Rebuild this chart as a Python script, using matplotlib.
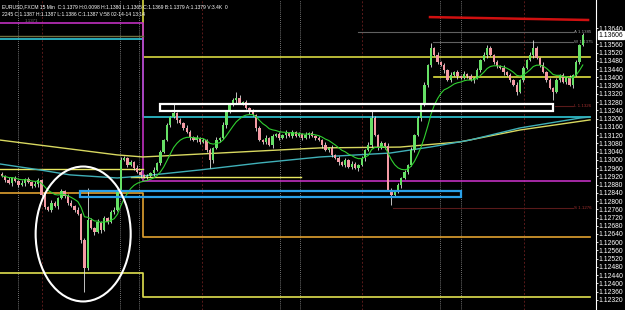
import numpy as np
import pandas as pd
import matplotlib
matplotlib.use("Agg")
import matplotlib.pyplot as plt
from matplotlib.patches import Rectangle, Ellipse

# ---- candle data (EURUSD 15 min) ----
closes = [
    1.12922, 1.12902, 1.12888, 1.12912, 1.12897, 1.12878, 1.12888, 1.12907, 1.12892, 1.12873,
    1.12883, 1.12902, 1.12829, 1.12771, 1.12757, 1.12791, 1.12776, 1.12815, 1.12849, 1.12825,
    1.12791, 1.12776, 1.12757, 1.12737, 1.12611, 1.12475, 1.12708, 1.12669, 1.12650, 1.12698,
    1.12660, 1.12718, 1.12698, 1.12747, 1.12757, 1.12854, 1.12999, 1.13009, 1.12975, 1.12990,
    1.12961, 1.12941, 1.12927, 1.12917, 1.12922, 1.12936, 1.12951, 1.12985, 1.13038, 1.13096,
    1.13169, 1.13208, 1.13227, 1.13194, 1.13179, 1.13155, 1.13135, 1.13111, 1.13096, 1.13106,
    1.13087, 1.13096, 1.13048, 1.12999, 1.13058, 1.13096, 1.13106, 1.13169, 1.13232, 1.13266,
    1.13291, 1.13300, 1.13276, 1.13281, 1.13252, 1.13232, 1.13218, 1.13155, 1.13096, 1.13087,
    1.13106, 1.13072, 1.13116, 1.13126, 1.13106, 1.13121, 1.13130, 1.13116, 1.13135, 1.13116,
    1.13126, 1.13106, 1.13121, 1.13130, 1.13116, 1.13106, 1.13096, 1.13072, 1.13048, 1.13058,
    1.13024, 1.13009, 1.12990, 1.12975, 1.12999, 1.12965, 1.12980, 1.12961, 1.12975, 1.13009,
    1.13048, 1.13072, 1.13203, 1.13121, 1.13058, 1.13082, 1.13067, 1.12854, 1.12829, 1.12844,
    1.12878, 1.12912, 1.12941, 1.12975, 1.13048, 1.13121, 1.13203, 1.13266, 1.13363, 1.13460,
    1.13543, 1.13509, 1.13475, 1.13460, 1.13436, 1.13388, 1.13412, 1.13427, 1.13407, 1.13397,
    1.13417, 1.13407, 1.13388, 1.13397, 1.13436, 1.13485, 1.13509, 1.13543, 1.13509, 1.13475,
    1.13456, 1.13446, 1.13427, 1.13412, 1.13388, 1.13363, 1.13329, 1.13388, 1.13446, 1.13485,
    1.13509, 1.13543, 1.13494, 1.13460, 1.13427, 1.13388, 1.13349, 1.13329, 1.13388, 1.13412,
    1.13378, 1.13397, 1.13363, 1.13412, 1.13475, 1.13558, 1.13606,
]
first_open = 1.12930

# wick lengths, one digit per candle, in half pips
WICK_UP = ("2131213121 3212132121 2313121213 1212313212 1321213121 2131213213 "
           "1212131321 2131213121 3121213121 2131212131 3121213212 1312121321 "
           "2121312131 2131213121 3121213121 2131213121 3121312121 2131212")
WICK_DN = ("1213121312 1312121312 2121312131 3121213121 2131213121 1213121312 "
           "2121312131 1312121312 2131213121 1213121312 2131212131 3121213121 "
           "1312121312 2121312131 1213121312 2131213121 1312121312 1213121")
high_fix = {26: 1.12863, 52: 1.13276, 71: 1.13329, 112: 1.13242, 130: 1.13567,
            147: 1.13558, 161: 1.13582}
low_fix = {25: 1.12359, 63: 1.12961, 118: 1.12781, 167: 1.13291}

# long moving averages (candle index, price)
yellow_ma_x = [-0.6, 34.9, 42.7, 96.4, 120.6, 138.8, 157.0, 178.2]
yellow_ma_p = [1.13096, 1.13024, 1.13014, 1.13058, 1.13062, 1.13087, 1.13145, 1.13194]
teal_ma_x = [-0.6, 11.5, 20.6, 34.9, 42.7, 60.0, 78.2, 96.4, 117.6, 129.7, 141.8, 157.0, 175.2, 178.2]
teal_ma_p = [1.12980, 1.12951, 1.12927, 1.12912, 1.12922, 1.12951, 1.12985, 1.13014,
             1.13033, 1.13062, 1.13096, 1.13155, 1.13203, 1.13208]

# daily levels: value before / after the day break
day_break = 42.7
lvl_before = [1.13800, 1.13587, 1.13665, 1.12839, 1.12451]
lvl_after = [1.13499, 1.13208, 1.12897, 1.12625, 1.12334]
lvl_colors = ["#d8d840", "#30c8d8", "#c030c0", "#e0a030", "#e0e050"]

fig = plt.figure(figsize=(6.25, 3.10), dpi=100, facecolor="black")
ax = fig.add_axes([0, 0, 596 / 625, 1])
ax.set_facecolor("black")
ax.set_xlim(-0.6, 180.0)
ax.set_ylim(1.12271, 1.13776)

# period separators
for xv in [5.0, 35.8, 41.5, 84.2, 90.3, 132.7, 139.1]:
    ax.axvline(xv, color="#9a9a9a", lw=0.6, ls=(0, (1, 1.5)), zorder=1)
for xv in [12.1, 60.6, 109.1, 158.2]:
    ax.axvline(xv, color="#5a1a1a", lw=0.7, ls=(0, (2, 2)), zorder=1)

# daily step lines
for b, a, c in zip(lvl_before, lvl_after, lvl_colors):
    ax.plot([-0.6, day_break, day_break, 178.3], [b, b, a, a], color=c, lw=1.2, zorder=2)
ax.plot([-0.6, day_break], [1.13601, 1.13601], color="#707040", lw=1.0, zorder=2)
ax.plot([-0.6, 42.7], [1.12956, 1.12956], color="#e8e860", lw=1.0, zorder=2)
ax.plot([39.0, 90.5], [1.12917, 1.12917], color="#e8e860", lw=1.0, zorder=2)
ax.plot([131.0, 178.3], [1.13402, 1.13402], color="#e0e040", lw=1.2, zorder=2)

# red trend line at top, grey / dark red marker lines
ax.plot([129.7, 177.6], [1.13693, 1.13679], color="#d01010", lw=1.8, zorder=2)
ax.plot([108.0, 173.0], [1.13620, 1.13620], color="#606060", lw=0.8, zorder=2)
ax.plot([130.6, 173.0], [1.13572, 1.13572], color="#606060", lw=0.8, zorder=2)
ax.plot([118.5, 173.0], [1.12766, 1.12766], color="#5a1a1a", lw=0.8, zorder=2)
ax.plot([167.6, 173.0], [1.13261, 1.13261], color="#5a1a1a", lw=0.8, zorder=2)
for txt, p, c in [("A 1.1385", 1.13620, "#a0a0a0"), ("W 1.1375", 1.13572, "#a0a0a0"),
                  ("S 1.1276", 1.12766, "#a03030"), ("L 1.1326", 1.13261, "#a03030")]:
    ax.text(173.3, p, txt, color=c, fontsize=3.2, va="center", ha="left",
            family="Liberation Sans", zorder=3)

# moving averages
ax.plot(yellow_ma_x, yellow_ma_p, color="#d8d860", lw=1.0, zorder=3)
ax.plot(teal_ma_x, teal_ma_p, color="#40b0b8", lw=1.0, zorder=3)

# candles
n = len(closes)
opens = [first_open] + closes[:-1]
up = [int(c) for c in WICK_UP.replace(" ", "")]
dn = [int(c) for c in WICK_DN.replace(" ", "")]
pip = 0.00005
idx = np.arange(n)
highs = [high_fix.get(i, max(opens[i], closes[i]) + up[i] * pip) for i in range(n)]
lows = [low_fix.get(i, min(opens[i], closes[i]) - dn[i] * pip) for i in range(n)]
ax.vlines(idx, lows, highs, color="#e0e0e0", lw=0.6, zorder=4)
bull = [c >= o for o, c in zip(opens, closes)]
bottoms = [min(o, c) for o, c in zip(opens, closes)]
heights = [max(abs(c - o), 0.00003) for o, c in zip(opens, closes)]
cols = ["#66e066" if b else "#f49aa4" for b in bull]
ax.bar(idx, heights, bottom=bottoms, width=0.72, color=cols, zorder=5)

ema = pd.Series(closes).ewm(span=12, adjust=False).mean()
ax.plot(idx, ema, color="#30d030", lw=0.8, zorder=6)

# boxes and ellipse
ax.add_patch(Rectangle((47.9, 1.13237), 167.0 - 47.9, 1.13271 - 1.13237,
                       fill=False, ec="white", lw=1.6, zorder=7))
ax.add_patch(Rectangle((23.6, 1.12820), 139.1 - 23.6, 1.12849 - 1.12820,
                       fill=False, ec="#2aa0e8", lw=1.6, zorder=7))
ax.add_patch(Ellipse((24.6, 1.12640), 28.8, 0.00655, fill=False, ec="white",
                     lw=1.5, zorder=7))

# price scale
ticks = [t for t in np.round(np.arange(1.12320, 1.13641, 0.0004), 5) if abs(t - 1.136) > 1e-6]
ax.yaxis.tick_right()
ax.set_yticks(ticks)
ax.set_yticklabels([f"{t:.5f}" for t in ticks], family="Liberation Sans")
ax.tick_params(axis="y", colors="white", labelsize=4.9, length=1.5, width=0.6, pad=0.6)
ax.set_xticks([])
for s in ["top", "left", "bottom"]:
    ax.spines[s].set_visible(False)
ax.spines["right"].set_color("white")
ax.spines["right"].set_linewidth(0.8)
ax.text(1.004, 1.13606, "1.13606", transform=ax.get_yaxis_transform(), fontsize=4.9,
        family="Liberation Sans", color="black", va="center", ha="left",
        bbox=dict(boxstyle="square,pad=0.12", fc="white", ec="white"), zorder=9)

# header text
fig.text(0.004, 0.985, "EURUSD,FXCM 15 Min  C:1.1379 H:0.0098 H:1.1380 L:1.1365 C:1.1369 B:1.1379 A:1.1379 V:3.4K  0",
         color="white", fontsize=3.6, family="Liberation Sans", va="top")
fig.text(0.004, 0.962, "2245 C:1.1387 H:1.1387 L:1.1386 C:1.1387 V:58 02-14-14 13:14",
         color="white", fontsize=3.6, family="Liberation Sans", va="top")
fig.text(0.04, 0.94, "1.1371", color="#707070", fontsize=3.2, family="Liberation Sans", va="top")

fig.savefig("out.png", dpi=100, facecolor="black")
